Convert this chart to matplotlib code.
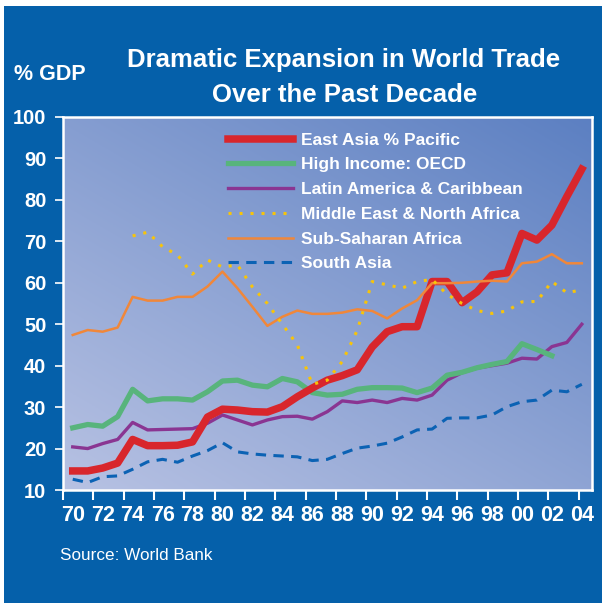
import matplotlib
matplotlib.use("Agg")
import matplotlib.pyplot as plt
import numpy as np

plt.rcParams['font.family'] = ['Liberation Sans', 'DejaVu Sans']

# years 1970..2004
years = list(range(1970, 2005))

east_asia = [14.6, 14.6, 15.3, 16.5, 22.2, 20.7, 20.7, 20.8, 21.6, 27.6, 29.5,
             29.3, 28.9, 28.8, 30.1, 32.5, 34.6, 36.5, 37.6, 39.0, 44.5, 48.2,
             49.4, 49.4, 60.3, 60.3, 55.2, 57.8, 61.9, 62.4, 71.9, 70.3, 73.9,
             80.8, 87.4]
high_income = [25.0, 25.8, 25.4, 27.7, 34.3, 31.5, 32.0, 32.0, 31.7, 33.7, 36.3,
               36.5, 35.3, 34.9, 36.9, 36.1, 33.5, 32.9, 33.1, 34.3, 34.7, 34.7,
               34.6, 33.5, 34.6, 37.7, 38.4, 39.5, 40.3, 41.0, 45.3, 43.9, 42.4]
latin_america = [20.4, 20.0, 21.2, 22.2, 26.3, 24.5, 24.6, 24.7, 24.8, 26.1, 28.1,
                 26.9, 25.7, 26.9, 27.7, 27.8, 27.1, 28.9, 31.5, 31.1, 31.7, 31.1,
                 32.1, 31.7, 32.9, 36.5, 38.3, 39.4, 40.0, 40.6, 41.8, 41.6, 44.6,
                 45.6, 50.0]
# Middle East starts in 1974
mena_years = list(range(1974, 2005))
mena = [71.3, 72.2, 68.7, 66.7, 62.1, 65.5, 63.8, 64.3, 59.0, 55.0, 50.0, 45.0,
        35.5, 36.5, 41.0, 48.5, 60.3, 59.5, 58.7, 60.3, 60.8, 57.2, 55.0, 53.3,
        52.6, 53.2, 55.4, 55.5, 60.3, 57.6, 58.3]
sub_saharan = [47.4, 48.6, 48.2, 49.2, 56.6, 55.7, 55.7, 56.6, 56.6, 59.1, 62.7,
               58.7, 54.2, 49.6, 51.8, 53.3, 52.5, 52.5, 52.8, 53.6, 53.2, 51.4,
               53.8, 55.8, 59.9, 59.9, 60.0, 60.3, 60.5, 60.3, 64.7, 65.1, 66.9,
               64.7, 64.7]
south_asia = [12.6, 11.8, 13.2, 13.4, 15.0, 16.8, 17.4, 16.7, 18.2, 19.5, 21.4,
              19.2, 18.7, 18.4, 18.2, 18.0, 17.1, 17.4, 18.8, 20.1, 20.6, 21.3,
              22.8, 24.5, 24.7, 27.3, 27.4, 27.4, 28.1, 30.1, 31.3, 31.7, 34.1,
              33.7, 35.5]

tick_years = list(range(1970, 2005, 2))
tick_labels = ["%02d" % (y % 100) for y in tick_years]

fig = plt.figure(figsize=(6.02, 6.03), dpi=100)
fig.patch.set_facecolor('#0560aa')
# thin white margins on the left and top
fig.patches.append(plt.Rectangle((0, 0), 4 / 602, 1, transform=fig.transFigure,
                                 facecolor='white', edgecolor='none'))
fig.patches.append(plt.Rectangle((0, 1 - 6 / 603), 1, 6 / 603,
                                 transform=fig.transFigure, facecolor='white',
                                 edgecolor='none'))

ax = fig.add_axes([63 / 602, 113 / 603, 529 / 602, 373 / 603])
ax.set_zorder(2)
x0, x1 = 1969.35, 2004.68
ax.set_xlim(x0, x1)
ax.set_ylim(10, 100)

# gradient background: lighter bottom-left, darker top-right
gx, gy = np.meshgrid(np.linspace(0, 1, 200), np.linspace(0, 1, 200))
t = np.clip(0.55 * gy + 0.45 * gx, 0, 1)
light = np.array([0.72, 0.76, 0.89])
dark = np.array([0.36, 0.50, 0.76])
img = light[None, None, :] * (1 - t[..., None]) + dark[None, None, :] * t[..., None]
ax.imshow(img, extent=[x0, x1, 10, 100], origin='lower', aspect='auto', zorder=0)

ax.plot(years, south_asia, color='#0b62b4', lw=2.2, dashes=(3.4, 2.4),
        label='South Asia', zorder=2)
ax.plot(years, latin_america, color='#8a3592', lw=2.4,
        label='Latin America & Caribbean', zorder=3)
ax.plot(years[:len(high_income)], high_income, color='#58b47c', lw=3.8,
        label='High Income: OECD', zorder=4)
ax.plot(years, east_asia, color='#d8262c', lw=5.4,
        label='East Asia % Pacific', zorder=5)
ax.plot(years, sub_saharan, color='#f0873a', lw=1.8,
        label='Sub-Saharan Africa', zorder=6)
ax.plot(mena_years, mena, color='#f7c40a', lw=2.2, dashes=(1, 2.6),
        label='Middle East & North Africa', zorder=7)

for s in ax.spines.values():
    s.set_color('white')
    s.set_linewidth(1.8)

ax.set_yticks(range(10, 101, 10))
ax.tick_params(axis='y', colors='white', length=6, width=1.2, direction='out',
               labelsize=14.5, pad=6)
for lab in ax.get_yticklabels():
    lab.set_fontweight('bold')

ax.set_xticks(np.linspace(1969.36, 2003.8, 18))
ax.set_xticklabels([])
ax.tick_params(axis='x', colors='white', length=7, width=1.5, direction='out')
for yr, lab in zip(tick_years, tick_labels):
    ax.text(yr, -0.068, lab, transform=ax.get_xaxis_transform(), ha='center',
            va='center', color='white', fontsize=15.5, fontweight='bold')

handles, labels = ax.get_legend_handles_labels()
order = ['East Asia % Pacific', 'High Income: OECD', 'Latin America & Caribbean',
         'Middle East & North Africa', 'Sub-Saharan Africa', 'South Asia']
hmap = dict(zip(labels, handles))
leg = ax.legend([hmap[k] for k in order], order, loc='upper left',
                bbox_to_anchor=(0.283, 1.0), frameon=False, handlelength=3.7,
                handletextpad=0.5, labelspacing=0.55, fontsize=12.5)
for txt in leg.get_texts():
    txt.set_color('white')
    txt.set_fontweight('bold')

fig.text(344 / 602, 1 - 60 / 603, 'Dramatic Expansion in World Trade',
         ha='center', va='center', color='white', fontsize=18.5, fontweight='bold')
fig.text(345 / 602, 1 - 95 / 603, 'Over the Past Decade',
         ha='center', va='center', color='white', fontsize=18.5, fontweight='bold')
fig.text(50 / 602, 1 - 75 / 603, '% GDP', ha='center', va='center',
         color='white', fontsize=15.5, fontweight='bold')
fig.text(60 / 602, 1 - 556 / 603, 'Source: World Bank', ha='left', va='center',
         color='white', fontsize=12.3)

fig.savefig('out.png', dpi=100)
